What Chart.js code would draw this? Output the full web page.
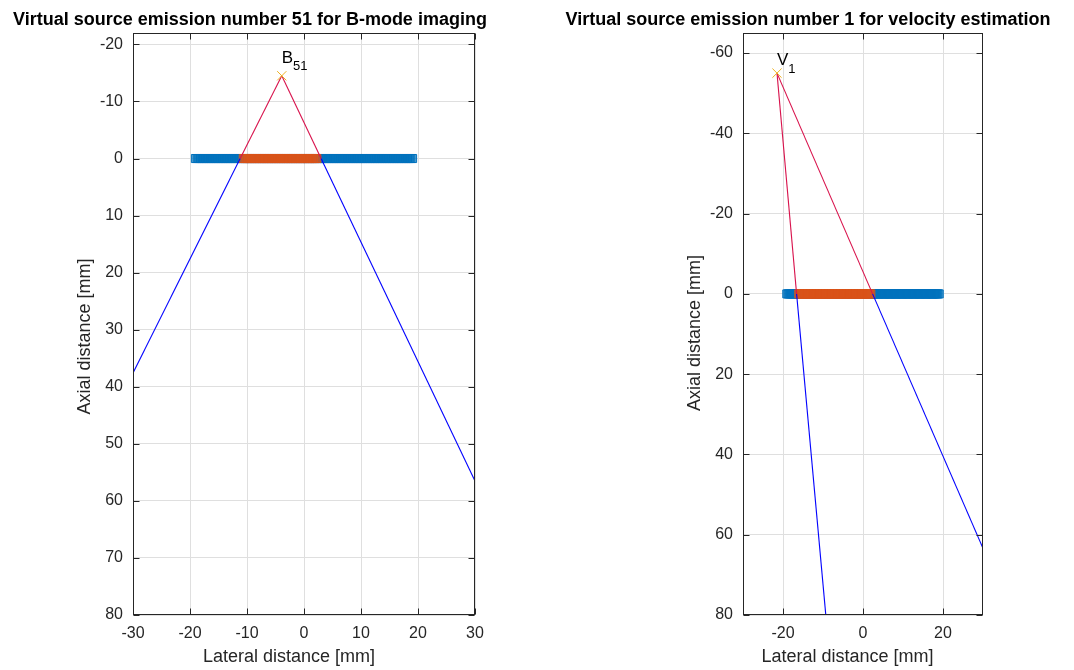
<!DOCTYPE html>
<html>
<head>
<meta charset="utf-8">
<script src="https://cdn.jsdelivr.net/npm/chart.js@4.4.1/dist/chart.umd.min.js"></script>
<style>
  body { margin: 0; background: #fff; }
  #wrap { position: relative; width: 1074px; height: 670px; }
  .panel { position: absolute; top: 0; }
</style>
</head>
<body>
<div id="wrap">
  <canvas id="chartBmode" class="panel" style="left:0" width="540" height="670"></canvas>
  <canvas id="chartVelocity" class="panel" style="left:540px" width="534" height="670"></canvas>
</div>
<script>
// transducer element centres [mm], all at depth 0
const elementX = [
  -19.05, -18.75, -18.45, -18.15, -17.85, -17.55, -17.25, -16.95, -16.65, -16.35,
  -16.05, -15.75, -15.45, -15.15, -14.85, -14.55, -14.25, -13.95, -13.65, -13.35,
  -13.05, -12.75, -12.45, -12.15, -11.85, -11.55, -11.25, -10.95, -10.65, -10.35,
  -10.05, -9.75, -9.45, -9.15, -8.85, -8.55, -8.25, -7.95, -7.65, -7.35,
  -7.05, -6.75, -6.45, -6.15, -5.85, -5.55, -5.25, -4.95, -4.65, -4.35,
  -4.05, -3.75, -3.45, -3.15, -2.85, -2.55, -2.25, -1.95, -1.65, -1.35,
  -1.05, -0.75, -0.45, -0.15,
  0.15, 0.45, 0.75, 1.05, 1.35, 1.65, 1.95, 2.25, 2.55, 2.85,
  3.15, 3.45, 3.75, 4.05, 4.35, 4.65, 4.95, 5.25, 5.55, 5.85,
  6.15, 6.45, 6.75, 7.05, 7.35, 7.65, 7.95, 8.25, 8.55, 8.85,
  9.15, 9.45, 9.75, 10.05, 10.35, 10.65, 10.95, 11.25, 11.55, 11.85,
  12.15, 12.45, 12.75, 13.05, 13.35, 13.65, 13.95, 14.25, 14.55, 14.85,
  15.15, 15.45, 15.75, 16.05, 16.35, 16.65, 16.95, 17.25, 17.55, 17.85,
  18.15, 18.45, 18.75, 19.05
];
const arrayDepth = 0;

// first / last active element index
const bmodeActiveRange = [28, 71];
const velActiveRange = [10, 70];

// virtual sources [x, z]
const bmodeSource = [-3.9, -14.5];
const velSource = [-21.5, -55];

// rays: source -> aperture edge at z=0 -> where it leaves the axes
const bmodeRayX = [[-3.9, -11.2, -30], [-3.9, 3.0, 30]];
const bmodeRayZ = [[-14.5, 0, 37.6], [-14.5, 0, 56.5]];
const velRayX = [[-21.5, -16.6, -9.3], [-21.5, 2.4, 30]];
const velRayZ = [[-55, 0, 80], [-55, 0, 63.4]];

// axes
const bmodeXRange = [-30, 30];
const bmodeZRange = [-22, 80];
const bmodeXTicks = [-30, -20, -10, 0, 10, 20, 30];
const bmodeZTicks = [-20, -10, 0, 10, 20, 30, 40, 50, 60, 70, 80];
const velXRange = [-30, 30];
const velZRange = [-65, 80];
const velXTicks = [-20, 0, 20];
const velZTicks = [-60, -40, -20, 0, 20, 40, 60, 80];

const bmodeTitle = "Virtual source emission number 51 for B-mode imaging";
const velTitle = "Virtual source emission number 1 for velocity estimation";
const xLabel = "Lateral distance [mm]";
const yLabel = "Axial distance [mm]";
const bmodeTag = { x: -3.9, z: -16.7, main: "B", sub: "51" };
const velTag = { x: -21.5, z: -57.1, main: "V", sub: "1" };

Chart.defaults.font.family = "'Liberation Sans', Arial, sans-serif";

const AXIS_COLOR = "#262626";

const matlabAxes = {
    id: "matlabAxes",
    afterDatasetsDraw(chart, args, o) {
        const ctx = chart.ctx;
        const a = chart.chartArea;
        const sx = chart.scales.x, sy = chart.scales.y;
        ctx.save();
        // tag next to the source
        const px = sx.getPixelForValue(o.tag.x);
        const py = sy.getPixelForValue(o.tag.z);
        ctx.fillStyle = "#000";
        ctx.textBaseline = "alphabetic";
        ctx.textAlign = "left";
        ctx.font = "17px 'Liberation Sans', Arial, sans-serif";
        ctx.fillText(o.tag.main, px, py);
        const w = ctx.measureText(o.tag.main).width;
        ctx.font = "13px 'Liberation Sans', Arial, sans-serif";
        ctx.fillText(o.tag.sub, px + w, py + o.subDrop);

        // box and inward ticks
        const L = Math.round(a.left) + 0.5, R = Math.round(a.right) - 0.5;
        const T = Math.round(a.top) + 0.5, B = Math.round(a.bottom) - 0.5;
        ctx.strokeStyle = AXIS_COLOR;
        ctx.lineWidth = 1;
        ctx.strokeRect(L, T, R - L, B - T);
        ctx.beginPath();
        sx.ticks.forEach(t => {
            const p = Math.round(sx.getPixelForValue(t.value)) + 0.5;
            ctx.moveTo(p, B); ctx.lineTo(p, B - 6);
            ctx.moveTo(p, T); ctx.lineTo(p, T + 6);
        });
        sy.ticks.forEach(t => {
            const p = Math.round(sy.getPixelForValue(t.value)) + 0.5;
            ctx.moveTo(L, p); ctx.lineTo(L + 6, p);
            ctx.moveTo(R, p); ctx.lineTo(R - 6, p);
        });
        ctx.stroke();

        // titles and axis labels
        ctx.fillStyle = "#000";
        ctx.textAlign = "center";
        ctx.font = "bold 18px 'Liberation Sans', Arial, sans-serif";
        ctx.fillText(o.title, o.titleX, 25);
        ctx.fillStyle = AXIS_COLOR;
        ctx.font = "18px 'Liberation Sans', Arial, sans-serif";
        ctx.fillText(xLabel, o.xLabelX, 662);
        ctx.translate(o.yLabelX, o.yLabelY);
        ctx.rotate(-Math.PI / 2);
        ctx.fillText(yLabel, 0, 0);
        ctx.restore();
    }
};

function makeChart(canvasId, cfg) {
    const rays = cfg.rayX.map((xs, r) => xs.map((x, i) => ({ x: x, y: cfg.rayZ[r][i] })));
    const elements = elementX.map(x => ({ x: x, y: arrayDepth }));
    const active = elements.slice(cfg.active[0], cfg.active[1] + 1);
    const line = (data, color) => ({
        data: data, showLine: true, borderColor: color, borderWidth: 1.1,
        pointRadius: 0, fill: false
    });

    return new Chart(document.getElementById(canvasId), {
        type: "scatter",
        data: {
            datasets: [
                {
                    data: [{ x: cfg.source[0], y: cfg.source[1] }],
                    pointStyle: "crossRot", pointRadius: 6.5, borderColor: "#EDB120",
                    borderWidth: 1, backgroundColor: "#EDB120"
                },
                // source -> aperture edge (red), aperture edge -> far (blue)
                line(rays[0].slice(0, 2), "#D8124C"),
                line(rays[1].slice(0, 2), "#D8124C"),
                line(rays[0].slice(1), "#0000FF"),
                line(rays[1].slice(1), "#0000FF"),
                {
                    data: active, pointStyle: "rect", pointRadius: 5.7,
                    borderColor: "#D95319", borderWidth: 1, backgroundColor: "rgba(217,83,25,0.5)"
                },
                {
                    data: elements, pointStyle: "rect", pointRadius: 5.7,
                    borderColor: "#0072BD", borderWidth: 1, backgroundColor: "rgba(0,114,189,0.55)"
                }
            ]
        },
        options: {
            responsive: false,
            animation: false,
            events: [],
            layout: { padding: { left: 0, top: 33, right: cfg.padRight, bottom: 0 } },
            plugins: {
                legend: { display: false },
                tooltip: { enabled: false },
                matlabAxes: cfg.deco
            },
            scales: {
                x: {
                    type: "linear",
                    min: cfg.xRange[0],
                    max: cfg.xRange[1],
                    afterBuildTicks: s => { s.ticks = cfg.xTicks.map(v => ({ value: v })); },
                    afterFit: s => { s.height = 55; },
                    grid: { color: "#DFDFDF", lineWidth: 1, drawTicks: false },
                    border: { display: false },
                    ticks: { color: AXIS_COLOR, font: { size: 16 }, padding: 9, maxRotation: 0 }
                },
                y: {
                    type: "linear",
                    reverse: true,
                    min: cfg.zRange[0],
                    max: cfg.zRange[1],
                    afterBuildTicks: s => { s.ticks = cfg.zTicks.map(v => ({ value: v })); },
                    afterFit: s => { s.width = cfg.yScaleWidth; },
                    grid: { color: "#DFDFDF", lineWidth: 1, drawTicks: false },
                    border: { display: false },
                    ticks: { color: AXIS_COLOR, font: { size: 16 }, padding: 10 }
                }
            }
        },
        plugins: [matlabAxes]
    });
}

makeChart("chartBmode", {
    source: bmodeSource, rayX: bmodeRayX, rayZ: bmodeRayZ, active: bmodeActiveRange,
    xRange: bmodeXRange, zRange: bmodeZRange, xTicks: bmodeXTicks, zTicks: bmodeZTicks,
    yScaleWidth: 133, padRight: 65,
    deco: { title: bmodeTitle, titleX: 250, xLabelX: 289, yLabelX: 89.6, yLabelY: 336.5, tag: bmodeTag, subDrop: 6.7 }
});

makeChart("chartVelocity", {
    source: velSource, rayX: velRayX, rayZ: velRayZ, active: velActiveRange,
    xRange: velXRange, zRange: velZRange, xTicks: velXTicks, zTicks: velZTicks,
    yScaleWidth: 203, padRight: 91,
    deco: { title: velTitle, titleX: 268, xLabelX: 307.5, yLabelX: 159.6, yLabelY: 333, tag: velTag, subDrop: 8.3 }
});
</script>
</body>
</html>
